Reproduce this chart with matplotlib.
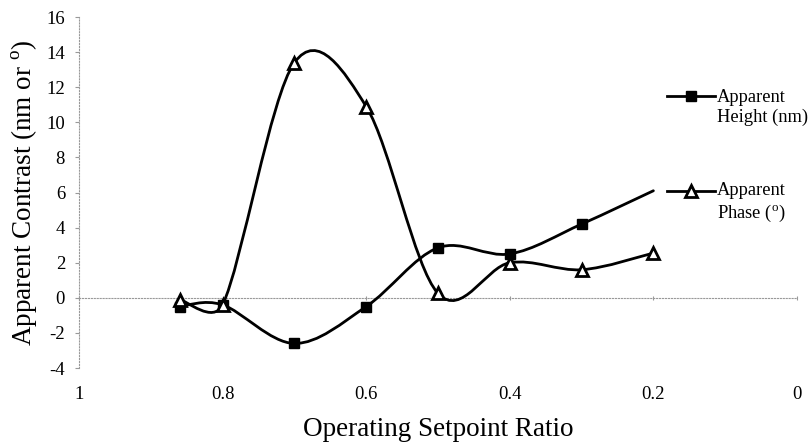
import numpy as np
import matplotlib.pyplot as plt
from matplotlib.path import Path
from matplotlib.patches import PathPatch
from matplotlib.lines import Line2D
from matplotlib.legend_handler import HandlerLine2D

# data
ratio = [0.86, 0.8, 0.7, 0.6, 0.5, 0.4, 0.3, 0.2]
height = [-0.5, -0.4, -2.6, -0.5, 2.85, 2.5, 4.2, 6.1]
phase_x = [0.86, 0.8, 0.7, 0.6, 0.5, 0.4, 0.3, 0.2]
phase = [-0.1, -0.4, 13.4, 10.9, 0.25, 2.0, 1.6, 2.55]
height_marked = [True, True, True, True, True, True, True, False]
xticks = [1, 0.8, 0.6, 0.4, 0.2, 0]
yticks = [-4, -2, 0, 2, 4, 6, 8, 10, 12, 14, 16]

plt.rcParams['font.family'] = ['Liberation Serif', 'DejaVu Serif']
plt.rcParams['mathtext.fontset'] = 'custom'
plt.rcParams['mathtext.rm'] = 'Liberation Serif'


def smooth_path(ax, x, y):
    # Excel-like smoothed line, built in screen space then mapped back
    p = ax.transData.transform(np.column_stack([x, y]).astype(float))
    pts = np.vstack([p[0], p, p[-1]])
    verts = [p[0]]
    codes = [Path.MOVETO]
    for i in range(1, len(pts) - 2):
        seg = np.linalg.norm(pts[i + 1] - pts[i])
        t1 = (pts[i + 1] - pts[i - 1]) / 6
        t2 = (pts[i + 2] - pts[i]) / 6
        cap = 0.5 * seg
        if np.linalg.norm(t1) > cap:
            t1 = t1 / np.linalg.norm(t1) * cap
        if np.linalg.norm(t2) > cap:
            t2 = t2 / np.linalg.norm(t2) * cap
        verts += [pts[i] + t1, pts[i + 1] - t2, pts[i + 1]]
        codes += [Path.CURVE4] * 3
    verts = ax.transData.inverted().transform(np.array(verts))
    return Path(verts, codes)


class RaisedHandler(HandlerLine2D):
    # put the legend sample on the first text line, like Excel
    def create_artists(self, legend, orig_handle, xdescent, ydescent,
                       width, height, fontsize, trans):
        arts = super().create_artists(legend, orig_handle, xdescent, ydescent,
                                      width, height, fontsize, trans)
        for a in arts:
            a.set_ydata(np.asarray(a.get_ydata()) + 0.64 * fontsize)
        return arts


fig = plt.figure(figsize=(8.12, 4.42), dpi=100)
ax = fig.add_axes([0.0973, 0.1674, 0.8842, 0.7941])
ax.set_xlim(1, 0)
ax.set_ylim(-4, 16)

for xs, ys in [(ratio, height), (phase_x, phase)]:
    ax.add_patch(PathPatch(smooth_path(ax, xs, ys), fill=False, lw=2.0,
                           ec='black', capstyle='round', zorder=3))

hx = [v for v, m in zip(ratio, height_marked) if m]
hy = [v for v, m in zip(height, height_marked) if m]
ax.plot(hx, hy, ls='none', marker='s', ms=7, mfc='black', mec='black', zorder=4)
ax.plot(phase_x, phase, ls='none', marker='^', ms=8, mfc='white', mec='black',
        mew=2, zorder=4)

for s in ['top', 'right']:
    ax.spines[s].set_visible(False)
ax.spines['left'].set_linestyle(':')
ax.spines['left'].set_color('#999999')
ax.spines['left'].set_linewidth(0.8)
ax.spines['bottom'].set_position(('data', 0))
ax.spines['bottom'].set_linestyle(':')
ax.spines['bottom'].set_color('#999999')
ax.spines['bottom'].set_linewidth(0.8)

ax.set_yticks(yticks)
ax.set_yticklabels([str(v) for v in yticks])
ax.tick_params(axis='y', length=3, color='#999999', labelsize=13.5, pad=7)
ax.set_xticks(xticks)
ax.tick_params(axis='x', length=3, color='#999999', direction='inout',
               labelbottom=False)

sec = ax.secondary_xaxis(0)
sec.set_xticks(xticks)
sec.set_xticklabels([f'{v:g}' for v in xticks])
sec.spines['bottom'].set_visible(False)
sec.tick_params(length=0, labelsize=13.5, pad=13)
sec.set_xlabel('Operating Setpoint Ratio', fontsize=19.5, labelpad=10)

ax.set_ylabel('Apparent Contrast (nm or $^{\\rm o}$)', fontsize=19.5, labelpad=5)

handles = [
    Line2D([], [], color='black', lw=2, marker='s', ms=7, mfc='black'),
    Line2D([], [], color='black', lw=2, marker='^', ms=8, mfc='white', mew=2),
]
labels = ['Apparent\nHeight (nm)', 'Apparent\nPhase ($^{\\rm o}$)']
ax.legend(handles, labels, loc='upper left', bbox_to_anchor=(0.809, 0.815),
          frameon=False, fontsize=13.3, handlelength=2.6, handletextpad=0.1,
          labelspacing=3.04, borderaxespad=0,
          handler_map={Line2D: RaisedHandler()})

fig.savefig('out.png', dpi=100)
